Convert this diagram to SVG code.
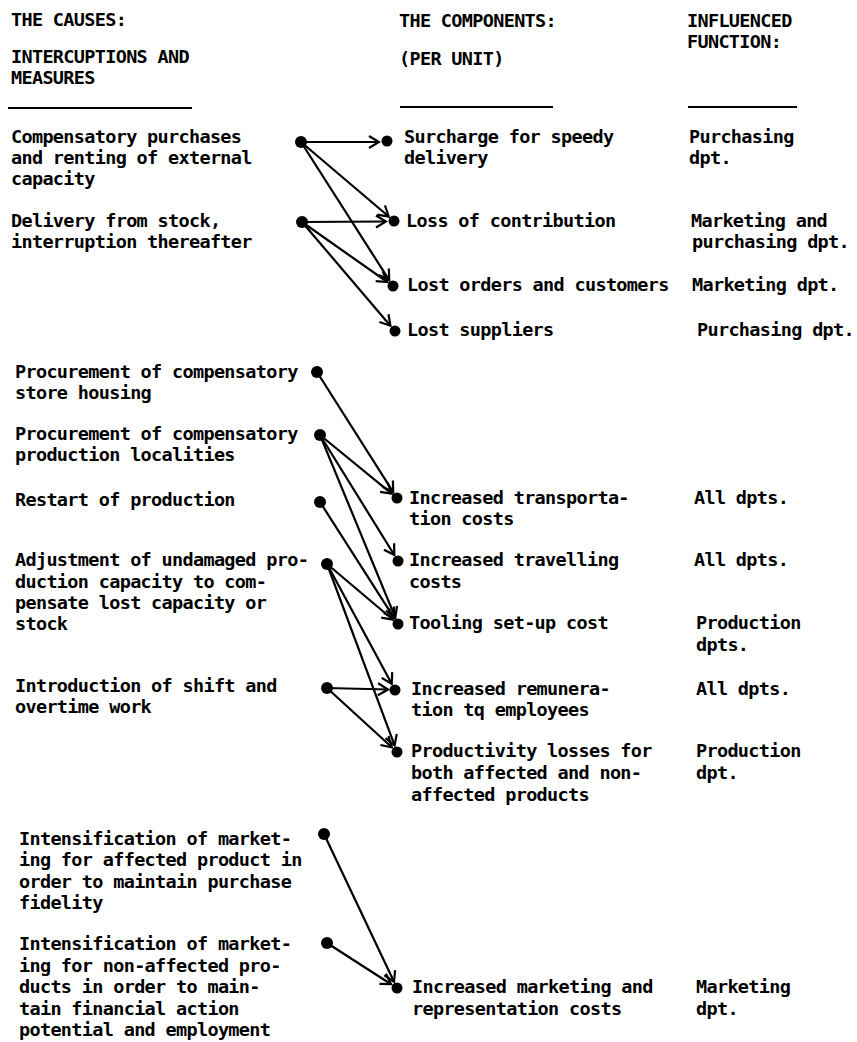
<svg xmlns="http://www.w3.org/2000/svg" width="857" height="1042" viewBox="0 0 857 1042">
<style>
text{font-family:"DejaVu Sans Mono","Liberation Mono",monospace;font-size:18.5px;letter-spacing:-0.67px;font-weight:bold;fill:#000}
.rule{stroke:#000;stroke-width:2}
.c{stroke:#000;stroke-width:2.2;fill:none;marker-end:url(#v)}
.d{fill:#000}
</style>
<defs>
<marker id="v" viewBox="-13 -8 15 16" refX="0" refY="0" markerWidth="15" markerHeight="16" markerUnits="userSpaceOnUse" orient="auto">
<path d="M-10,-6 L0,0 L-10,6" fill="none" stroke="#000" stroke-width="2.2"/>
</marker>
</defs>
<rect width="857" height="1042" fill="#fff"/>
<g id="header-causes">
<text x="11" y="26">THE CAUSES:</text>
<text x="11" y="63">INTERCUPTIONS AND</text>
<text x="11" y="84">MEASURES</text>
<line class="rule" x1="8" y1="108" x2="192" y2="108"/>
</g>
<g id="header-components">
<text x="399" y="27">THE COMPONENTS:</text>
<text x="399" y="65">(PER UNIT)</text>
<line class="rule" x1="400" y1="107" x2="553" y2="107"/>
</g>
<g id="header-function">
<text x="687" y="27">INFLUENCED</text>
<text x="687" y="48">FUNCTION:</text>
<line class="rule" x1="688" y1="107" x2="797" y2="107"/>
</g>
<g id="cause-compensatory-purchases">
<text x="11" y="143">Compensatory purchases</text>
<text x="11" y="164">and renting of external</text>
<text x="11" y="185">capacity</text>
<circle class="d" cx="301" cy="142" r="6"/>
</g>
<g id="cause-delivery-from-stock">
<text x="11" y="227">Delivery from stock,</text>
<text x="11" y="248">interruption thereafter</text>
<circle class="d" cx="302" cy="222" r="6"/>
</g>
<g id="cause-store-housing">
<text x="15" y="378">Procurement of compensatory</text>
<text x="15" y="399">store housing</text>
<circle class="d" cx="317" cy="372" r="6"/>
</g>
<g id="cause-production-localities">
<text x="15" y="440">Procurement of compensatory</text>
<text x="15" y="461">production localities</text>
<circle class="d" cx="320" cy="435" r="6"/>
</g>
<g id="cause-restart">
<text x="15" y="506">Restart of production</text>
<circle class="d" cx="320" cy="502" r="6"/>
</g>
<g id="cause-adjustment">
<text x="15" y="566">Adjustment of undamaged pro-</text>
<text x="15" y="588">duction capacity to com-</text>
<text x="15" y="609">pensate lost capacity or</text>
<text x="15" y="630">stock</text>
<circle class="d" cx="327" cy="564" r="6"/>
</g>
<g id="cause-shift-overtime">
<text x="15" y="692">Introduction of shift and</text>
<text x="15" y="713">overtime work</text>
<circle class="d" cx="327" cy="688" r="6"/>
</g>
<g id="cause-marketing-affected">
<text x="19" y="845">Intensification of market-</text>
<text x="19" y="866">ing for affected product in</text>
<text x="19" y="888">order to maintain purchase</text>
<text x="19" y="909">fidelity</text>
<circle class="d" cx="324" cy="834" r="6"/>
</g>
<g id="cause-marketing-non-affected">
<text x="19" y="950">Intensification of market-</text>
<text x="19" y="972">ing for non-affected pro-</text>
<text x="19" y="993">ducts in order to main-</text>
<text x="19" y="1015">tain financial action</text>
<text x="19" y="1036">potential and employment</text>
<circle class="d" cx="327" cy="943" r="6"/>
</g>
<g id="comp-surcharge">
<circle class="d" cx="387" cy="141" r="5.5"/>
<text x="404" y="143">Surcharge for speedy</text>
<text x="404" y="164">delivery</text>
<text x="689" y="143">Purchasing</text>
<text x="689" y="164">dpt.</text>
</g>
<g id="comp-loss-contribution">
<circle class="d" cx="394" cy="221" r="5.5"/>
<text x="406" y="227">Loss of contribution</text>
<text x="691" y="227">Marketing and</text>
<text x="692" y="248">purchasing dpt.</text>
</g>
<g id="comp-lost-orders">
<circle class="d" cx="393" cy="286" r="5.5"/>
<text x="407" y="291">Lost orders and customers</text>
<text x="692" y="291">Marketing dpt.</text>
</g>
<g id="comp-lost-suppliers">
<circle class="d" cx="395" cy="331" r="5.5"/>
<text x="407" y="336">Lost suppliers</text>
<text x="697" y="336">Purchasing dpt.</text>
</g>
<g id="comp-transportation">
<circle class="d" cx="397" cy="498" r="5.5"/>
<text x="409" y="504">Increased transporta-</text>
<text x="409" y="525">tion costs</text>
<text x="694" y="504">All dpts.</text>
</g>
<g id="comp-travelling">
<circle class="d" cx="398" cy="561" r="5.5"/>
<text x="409" y="566">Increased travelling</text>
<text x="409" y="588">costs</text>
<text x="694" y="566">All dpts.</text>
</g>
<g id="comp-tooling">
<circle class="d" cx="398" cy="624" r="5.5"/>
<text x="409" y="629">Tooling set-up cost</text>
<text x="696" y="629">Production</text>
<text x="696" y="651">dpts.</text>
</g>
<g id="comp-remuneration">
<circle class="d" cx="395" cy="690" r="5.5"/>
<text x="411" y="695">Increased remunera-</text>
<text x="411" y="716">tion tq employees</text>
<text x="696" y="695">All dpts.</text>
</g>
<g id="comp-productivity">
<circle class="d" cx="397" cy="752" r="5.5"/>
<text x="411" y="757">Productivity losses for</text>
<text x="411" y="779">both affected and non-</text>
<text x="411" y="801">affected products</text>
<text x="696" y="757">Production</text>
<text x="696" y="779">dpt.</text>
</g>
<g id="comp-marketing">
<circle class="d" cx="397" cy="988" r="5.5"/>
<text x="412" y="993">Increased marketing and</text>
<text x="412" y="1015">representation costs</text>
<text x="696" y="993">Marketing</text>
<text x="696" y="1015">dpt.</text>
</g>
<g id="connectors">
<line class="c" x1="301" y1="142" x2="379" y2="142"/>
<line class="c" x1="301" y1="142" x2="388.7" y2="216.5"/>
<line class="c" x1="301" y1="142" x2="389.2" y2="280.1"/>
<line class="c" x1="302" y1="222" x2="386" y2="221.5"/>
<line class="c" x1="302" y1="222" x2="387.3" y2="282"/>
<line class="c" x1="302" y1="222" x2="390.4" y2="325.7"/>
<line class="c" x1="317" y1="372" x2="393.2" y2="492.1"/>
<line class="c" x1="320" y1="435" x2="391.6" y2="493.6"/>
<line class="c" x1="320" y1="435" x2="394.3" y2="555"/>
<line class="c" x1="320" y1="435" x2="395.3" y2="617.5"/>
<line class="c" x1="320" y1="502" x2="394.2" y2="618.1"/>
<line class="c" x1="327" y1="564" x2="392.7" y2="619.5"/>
<line class="c" x1="327" y1="564" x2="391.7" y2="683.8"/>
<line class="c" x1="327" y1="564" x2="394.6" y2="745.4"/>
<line class="c" x1="327" y1="688" x2="388" y2="689.5"/>
<line class="c" x1="327" y1="688" x2="391.8" y2="747.3"/>
<line class="c" x1="324" y1="834" x2="394" y2="981.7"/>
<line class="c" x1="327" y1="943" x2="391.1" y2="984.2"/>
</g>
</svg>
